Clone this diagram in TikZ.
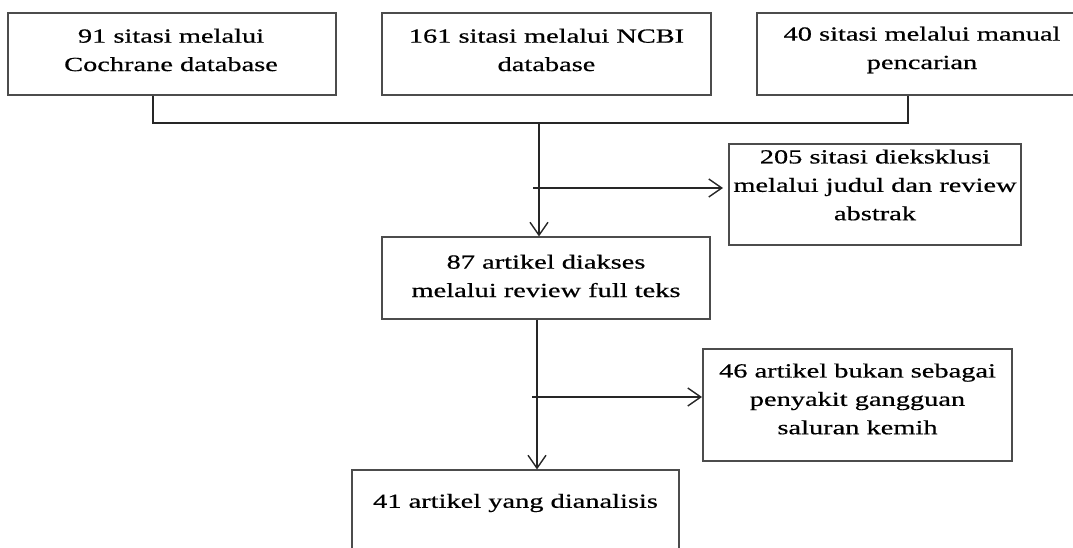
\documentclass[tikz,border=0pt]{standalone}
\usepackage{fontspec}
\setmainfont{Liberation Serif}[FakeStretch=1.42,FakeBold=0.6]
\usetikzlibrary{arrows.meta}
\tikzset{
  box/.style={draw=black!70, line width=1.1pt, rectangle, inner sep=0pt},
  txt/.style={align=center, inner sep=0pt, font=\fontsize{20}{28.4}\selectfont},
  conn/.style={draw=black!85, line width=1.4pt},
  arr/.style={conn, -{Straight Barb[length=13pt,width=18pt,line width=1.4pt]}}
}
\begin{document}
\begin{tikzpicture}[x=1pt,y=-1pt]
\useasboundingbox (0,0) rectangle (1073,548);
\clip (0,0) rectangle (1073,548);
% boxes
\node[box, minimum width=328pt, minimum height=82pt] (b1) at (172,54) {};
\node[box, minimum width=329pt, minimum height=82pt] (b2) at (546.5,54) {};
\node[box, minimum width=330pt, minimum height=82pt] (b3) at (922,54) {};
\node[box, minimum width=292pt, minimum height=101pt] (b5) at (875,194.5) {};
\node[box, minimum width=328pt, minimum height=82pt] (b4) at (546,278) {};
\node[box, minimum width=309pt, minimum height=112pt] (b7) at (857.5,405) {};
\node[box, minimum width=327pt, minimum height=110pt] (b6) at (515.5,525) {};
% texts
\node[txt] (t1) at (171,50) {91 sitasi melalui\\Cochrane database};
\node[txt] (t2) at (546.5,50) {161 sitasi melalui NCBI\\database};
\node[txt] (t3) at (922,50) {40 sitasi melalui manual\\pencarian};
\node[txt] (t5) at (875,185) {205 sitasi dieksklusi\\melalui judul dan review\\abstrak};
\node[txt] (t4) at (546,276) {87 artikel diakses\\melalui review full teks};
\node[txt] (t7) at (857.5,399) {46 artikel bukan sebagai\\penyakit gangguan\\saluran kemih};
\node[txt] (t6) at (515.5,503) {41 artikel yang dianalisis};
% connectors
\coordinate (jl) at (153,123);
\coordinate (jr) at (908,123);
\coordinate (jm) at (539,123);
\coordinate (s1) at (533,188);
\coordinate (e1) at (723,188);
\coordinate (s2) at (532,397);
\coordinate (e2) at (702,397);
\coordinate (vx) at (537,0);
\draw[conn] (b1.south -| jl) -- (jl) -- (jr) -- (b3.south -| jr);
\draw[arr] (jm) -- (b4.north -| jm);
\draw[arr] (s1) -- (e1);
\draw[arr] (b4.south -| vx) -- (b6.north -| vx);
\draw[arr] (s2) -- (e2);
\end{tikzpicture}
\end{document}
